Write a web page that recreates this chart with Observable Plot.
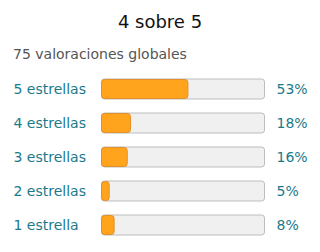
<!DOCTYPE html>
<html>
<head>
<meta charset="utf-8">
<script src="https://cdn.jsdelivr.net/npm/d3@7"></script>
<script src="https://cdn.jsdelivr.net/npm/@observablehq/plot@0.6"></script>
<style>
  html, body { margin: 0; padding: 0; background: #fff; }
  #wrap { position: relative; width: 320px; height: 252px; font-family: "DejaVu Sans", sans-serif; }
  #title { position: absolute; top: 10px; left: 0; width: 320px; text-align: center; font-size: 18px; color: #111; line-height: 24px; }
  #subtitle { position: absolute; top: 44px; left: 13px; font-size: 14px; color: #555; line-height: 20px; }
  #chart { position: absolute; top: 72px; left: 0; }
</style>
</head>
<body>
<div id="wrap">
  <div id="title"></div>
  <div id="subtitle"></div>
  <div id="chart"></div>
</div>
<script>
const title = "4 sobre 5";
const subtitle = "75 valoraciones globales";
const categories = ["5 estrellas", "4 estrellas", "3 estrellas", "2 estrellas", "1 estrella"];
const percents = [53, 18, 16, 5, 8];

document.getElementById("title").textContent = title;
document.getElementById("subtitle").textContent = subtitle;

const data = categories.map((c, i) => ({label: c, pct: percents[i]}));

const teal = "#1b7a8a";

const chart = Plot.plot({
  width: 320,
  height: 180,
  marginLeft: 101,
  marginRight: 55,
  marginTop: 0,
  marginBottom: 10,
  style: {fontFamily: "DejaVu Sans, sans-serif", fontSize: "14px", background: "transparent"},
  x: {domain: [0, 100], axis: null},
  y: {domain: categories, paddingInner: 0.41, paddingOuter: 0.205, label: null},
  marks: [
    Plot.barX(data, {y: "label", x1: 0, x2: 100, fill: "#f0f0f0", stroke: "#bdbdbd", strokeWidth: 1, rx: 3, insetLeft: 0.5, insetRight: 0.5}),
    Plot.barX(data, {y: "label", x1: 0, x2: "pct", fill: "#ffa41c", stroke: "#e3902a", strokeWidth: 1, rx: 3, insetLeft: 0.5, insetTop: 0.5, insetBottom: 0.5}),
    Plot.axisY({tickSize: 0, textAnchor: "start", tickPadding: 0, dx: -88, fill: teal, fontSize: 14, label: null}),
    Plot.text(data, {y: "label", x: 100, text: d => d.pct + "%", textAnchor: "start", dx: 11, fill: teal, fontSize: 14})
  ]
});
document.getElementById("chart").appendChild(chart);
</script>
</body>
</html>
